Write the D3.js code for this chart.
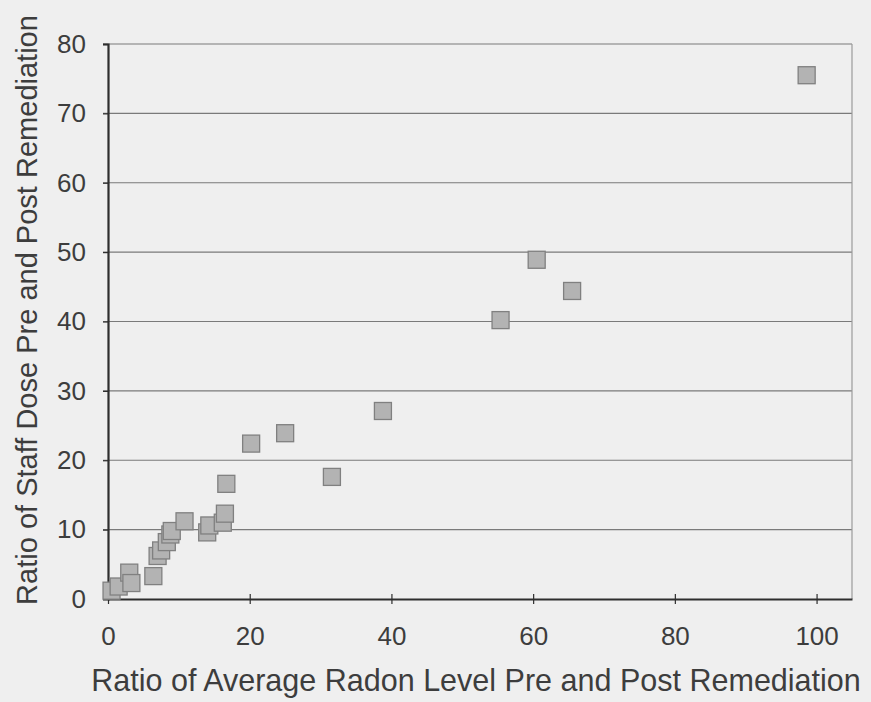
<!DOCTYPE html>
<html>
<head>
<meta charset="utf-8">
<script src="https://cdn.jsdelivr.net/npm/d3@7"></script>
<style>
  html, body { margin: 0; padding: 0; background: #efefef; }
  svg { display: block; }
</style>
</head>
<body>
<script>
// ---- data ----
const radonRatio = [0.5, 1.5, 3.0, 3.3, 6.4, 7.0, 7.5, 8.3, 8.8, 9.0, 10.8, 14.0, 14.3, 16.2, 16.5, 16.7, 20.2, 25.0, 31.6, 38.8, 55.4, 60.5, 65.5, 98.6];
const doseRatio  = [1.2, 1.8, 3.8, 2.3, 3.3, 6.2, 7.0, 8.2, 9.3, 9.8, 11.2, 9.6, 10.6, 11.0, 12.3, 16.6, 22.4, 23.9, 17.6, 27.1, 40.2, 48.9, 44.4, 75.5];
const xTicks = [0, 20, 40, 60, 80, 100];
const yTicks = [0, 10, 20, 30, 40, 50, 60, 70, 80];
const xTitle = "Ratio of Average Radon Level Pre and Post Remediation";
const yTitle = "Ratio of Staff Dose Pre and Post Remediation";

const W = 871, H = 702;
const mLeft = 108, mRight = 852, mTop = 44, mBottom = 599;

const svg = d3.select("body").append("svg").attr("width", W).attr("height", H);
svg.append("rect").attr("width", W).attr("height", H).attr("fill", "#efefef");

const x = d3.scaleLinear().domain([0, 105]).range([mLeft, mRight]);
const y = d3.scaleLinear().domain([0, 80]).range([mBottom, mTop]);

const font = "Liberation Sans, Arial, sans-serif";
const textColor = "#3d3d3d";

// gridlines
svg.append("g").selectAll("line").data(yTicks.filter(d => d > 0)).join("line")
  .attr("x1", mLeft - 5).attr("x2", mRight)
  .attr("y1", d => y(d)).attr("y2", d => y(d))
  .attr("stroke", "#7a7a7a").attr("stroke-width", 1.2);

// right border
svg.append("line").attr("x1", mRight).attr("x2", mRight).attr("y1", mTop).attr("y2", mBottom)
  .attr("stroke", "#9a9a9a").attr("stroke-width", 1.2);

// y axis
const yAxis = svg.append("g").attr("transform", `translate(${mLeft},0)`)
  .call(d3.axisLeft(y).tickValues(yTicks).tickSize(5).tickPadding(17).tickFormat(d3.format("d")));
yAxis.select(".domain").attr("stroke", "#2e2e2e").attr("stroke-width", 2.2);
yAxis.selectAll(".tick line").attr("stroke", "#2e2e2e").attr("stroke-width", 1.2);
yAxis.selectAll("text").attr("font-family", font).attr("font-size", 26).attr("fill", textColor);

// x axis
const xAxis = svg.append("g").attr("transform", `translate(0,${mBottom})`)
  .call(d3.axisBottom(x).tickValues(xTicks).tickSizeInner(5).tickSizeOuter(0).tickPadding(23).tickFormat(d3.format("d")));
xAxis.select(".domain").attr("stroke", "#2e2e2e").attr("stroke-width", 2.2);
xAxis.selectAll(".tick line").attr("y1", -5).attr("y2", 5).attr("stroke", "#2e2e2e").attr("stroke-width", 1.2);
xAxis.selectAll("text").attr("font-family", font).attr("font-size", 26).attr("fill", textColor);

// points
const pts = radonRatio.map((v, i) => ({ xv: v, yv: doseRatio[i] }));
const s = 17;
svg.append("g").selectAll("rect").data(pts).join("rect")
  .attr("x", d => x(d.xv) - s / 2).attr("y", d => y(d.yv) - s / 2)
  .attr("width", s).attr("height", s)
  .attr("fill", "#b3b3b3").attr("stroke", "#808080").attr("stroke-width", 1.3);

// axis titles, sized to their span in the reference
function fitText(sel, targetLen, base) {
  sel.attr("font-size", base);
  const len = sel.node().getComputedTextLength();
  sel.attr("font-size", base * targetLen / len);
}
const xt = svg.append("text").text(xTitle)
  .attr("x", 476).attr("y", 691).attr("text-anchor", "middle")
  .attr("font-family", font).attr("fill", textColor);
fitText(xt, 770, 24);

const yt = svg.append("text").text(yTitle)
  .attr("transform", "translate(37,310) rotate(-90)").attr("text-anchor", "middle")
  .attr("font-family", font).attr("fill", textColor);
fitText(yt, 590, 24);
</script>
</body>
</html>
